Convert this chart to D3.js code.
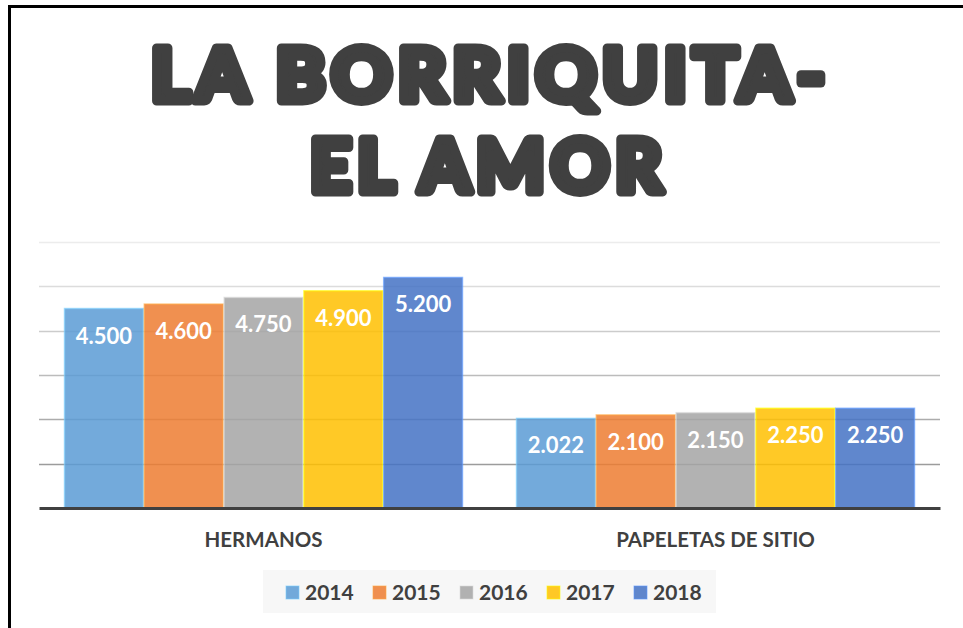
<!DOCTYPE html>
<html>
<head>
<meta charset="utf-8">
<script src="https://cdn.jsdelivr.net/npm/d3@7"></script>
<style>
  body { margin: 0; background: #fff; }
  svg { display: block; }
</style>
</head>
<body>
<svg width="963" height="628"></svg>
<script>
// datos de la hermandad
var categories = ["HERMANOS", "PAPELETAS DE SITIO"];
var years = ["2014", "2015", "2016", "2017", "2018"];
var hermanos = [4500, 4600, 4750, 4900, 5200];
var papeletas = [2022, 2100, 2150, 2250, 2250];
var yTicks = [1000, 2000, 3000, 4000, 5000, 6000];
var colors = ["#5B9BD5", "#ED7D31", "#A5A5A5", "#FFC000", "#4472C4"];

var rows = [hermanos, papeletas];

var svg = d3.select("svg"),
    width = +svg.attr("width"),
    height = +svg.attr("height");

var fmt = d3.formatLocale({ decimal: ",", thousands: ".", grouping: [3], currency: ["", ""] }).format(",d");

// marco
svg.append("path")
    .attr("d", "M9.5," + (height + 2) + "V6.5H" + (width + 2))
    .attr("fill", "none")
    .attr("stroke", "#000")
    .attr("stroke-width", 3);

// titulo (letra gruesa y estrecha)
var title = svg.append("g")
    .attr("fill", "#404040")
    .attr("stroke", "#404040")
    .attr("stroke-width", 9)
    .attr("stroke-linejoin", "round")
    .style("font-family", "Lato")
    .style("font-weight", 900)
    .style("font-size", "73px")
    .style("letter-spacing", "6px")
    .attr("text-anchor", "start");

title.append("text")
    .attr("x", 151).attr("y", 101)
    .attr("textLength", 680)
    .attr("lengthAdjust", "spacingAndGlyphs")
    .text("LA BORRIQUITA-");
title.append("text")
    .attr("x", 310).attr("y", 192)
    .attr("textLength", 358)
    .attr("lengthAdjust", "spacingAndGlyphs")
    .text("EL AMOR");

// escalas
var x0 = d3.scaleBand()
    .domain(categories)
    .range([39, 940])
    .paddingInner(0.1173)
    .paddingOuter(0.0553);

var x1 = d3.scaleBand()
    .domain(years)
    .range([0, x0.bandwidth()]);

var y = d3.scaleLinear()
    .domain([0, 6000])
    .range([508, 242]);

var gridColor = d3.scaleLinear()
    .domain([1000, 6000])
    .range(["#9c9c9c", "#ececec"]);

// rejilla
svg.append("g")
    .selectAll("line")
    .data(yTicks)
    .enter()
    .append("line")
    .attr("x1", 39)
    .attr("x2", 940)
    .attr("y1", function(d) { return Math.round(y(d)) + 0.5; })
    .attr("y2", function(d) { return Math.round(y(d)) + 0.5; })
    .attr("stroke", function(d) { return gridColor(d); })
    .attr("stroke-width", 1.5);

// barras
var groups = svg.append("g")
    .selectAll("g")
    .data(categories)
    .enter()
    .append("g")
    .attr("transform", function(d) { return "translate(" + x0(d) + ",0)"; });

groups.selectAll("rect")
    .data(function(d, i) {
      return rows[i].map(function(v, j) { return { year: years[j], value: v, color: colors[j] }; });
    })
    .enter()
    .append("rect")
    .attr("x", function(d) { return x1(d.year) + 0.5; })
    .attr("width", x1.bandwidth() - 1)
    .attr("y", function(d) { return y(d.value); })
    .attr("height", function(d) { return y(0) - y(d.value); })
    .attr("fill", function(d) { return d.color; })
    .attr("fill-opacity", 0.85)
    .attr("stroke", function(d) { return d3.color(d.color).brighter(0.8); })
    .attr("stroke-opacity", 0.6)
    .attr("stroke-width", 1.5);

groups.selectAll("text")
    .data(function(d, i) {
      return rows[i].map(function(v, j) { return { year: years[j], value: v }; });
    })
    .enter()
    .append("text")
    .attr("x", function(d) { return x1(d.year) + x1.bandwidth() / 2; })
    .attr("y", function(d) { return y(d.value) + 35; })
    .attr("text-anchor", "middle")
    .attr("fill", "#fff")
    .style("font-family", "Lato")
    .style("font-weight", 700)
    .style("font-size", "22px")
    .text(function(d) { return fmt(d.value); });

// eje
var xAxis = svg.append("g")
    .attr("transform", "translate(0,508)")
    .call(d3.axisBottom(x0).tickSize(0).tickPadding(24));

xAxis.select(".domain")
    .attr("stroke", "#404040")
    .attr("stroke-width", 3);

xAxis.selectAll("text")
    .attr("fill", "#404040")
    .style("font-family", "Lato")
    .style("font-weight", 700)
    .style("font-size", "20.5px");

// leyenda
var legend = svg.append("g");

legend.append("rect")
    .attr("x", 263).attr("y", 570)
    .attr("width", 453).attr("height", 43)
    .attr("fill", "#f7f7f7");

var item = legend.selectAll("g")
    .data(years)
    .enter()
    .append("g")
    .attr("transform", function(d, i) { return "translate(" + (286 + i * 87) + ",586)"; });

item.append("rect")
    .attr("width", 13).attr("height", 13)
    .attr("fill", function(d, i) { return colors[i]; })
    .attr("fill-opacity", 0.85)
    .attr("stroke", function(d, i) { return d3.color(colors[i]).brighter(0.8); })
    .attr("stroke-opacity", 0.6);

item.append("text")
    .attr("x", 19)
    .attr("y", 14)
    .attr("fill", "#404040")
    .style("font-family", "Lato")
    .style("font-weight", 700)
    .style("font-size", "21px")
    .text(function(d) { return d; });
</script>
</body>
</html>
